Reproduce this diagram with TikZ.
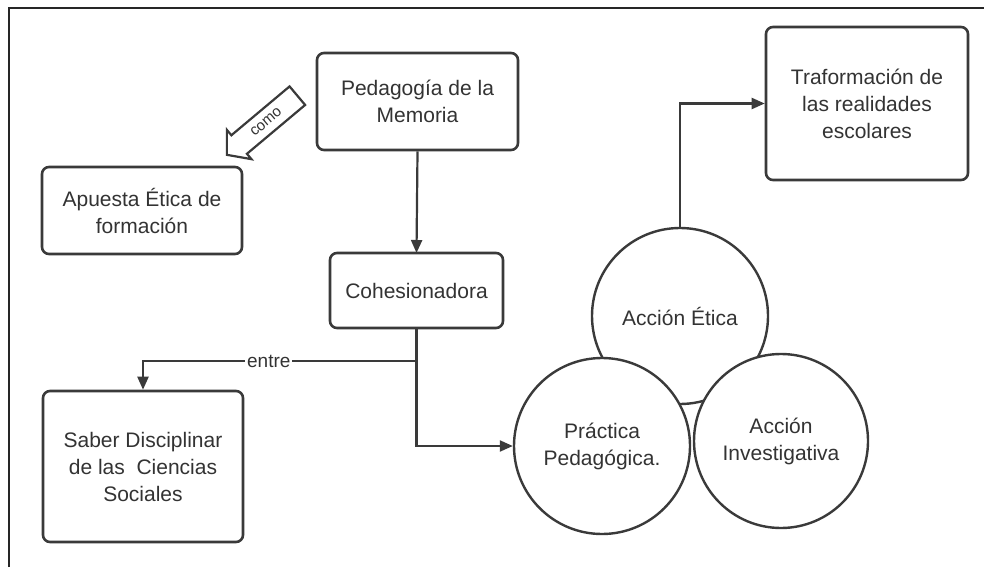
\documentclass[tikz,border=0pt]{standalone}
\usepackage{fontspec}
\setmainfont{Liberation Sans}
\usetikzlibrary{arrows.meta,shapes.arrows}
\definecolor{ink}{HTML}{3A3A3A}
\definecolor{txt}{HTML}{333333}
\tikzset{
  box/.style={draw=ink, line width=2.6pt, rounded corners=7pt, fill=white,
    align=center, text=txt, font=\fontsize{21}{27}\selectfont},
  ring/.style={circle, draw=ink, line width=2.4pt, fill=white, align=center,
    text=txt, font=\fontsize{21}{27}\selectfont, inner sep=0pt},
  link/.style={draw=ink, line width=2.2pt,
    -{Triangle[length=13pt,width=11pt]}},
  tag/.style={fill=white, text=txt, font=\fontsize{19}{22}\selectfont, inner sep=2pt}
}
\begin{document}
\begin{tikzpicture}[x=1pt,y=-1pt]
  \useasboundingbox (0,0) rectangle (984,567);
  % page frame (top and left rules)
  \draw[line width=1.6pt, draw=black!85] (9,567) -- (9,8) -- (984,8);

  % boxes
  \node[box, minimum width=201pt, minimum height=97pt] (ped) at (417.5,101.5)
    {Pedagogía de la\\Memoria};
  \node[box, minimum width=200pt, minimum height=87pt] (apu) at (142,210.5)
    {Apuesta Ética de\\formación};
  \node[box, minimum width=173pt, minimum height=75pt] (coh) at (416.5,290.5)
    {Cohesionadora};
  \node[box, minimum width=200pt, minimum height=151pt] (sab) at (143,466.5)
    {Saber Disciplinar\\de las\ \ Ciencias\\Sociales};
  \node[box, minimum width=202pt, minimum height=153pt] (tra) at (867,103.5)
    {Traformación de\\las realidades\\escolares};

  % three overlapping circles
  \node[ring, minimum size=176pt] (eti) at (680,316) {\raisebox{0pt}{Acción Ética}};
  \node[ring, minimum size=176pt] (pra) at (602,446) {Práctica\\Pedagógica.};
  \node[ring, minimum size=174pt] (inv) at (781,441) {Acción\\Investigativa};

  % hollow "como" arrow
  \node[single arrow, draw=ink, line width=2.2pt, fill=white, text=txt,
    font=\fontsize{15}{17}\selectfont, text height=10pt, text depth=2pt,
    inner xsep=6pt, inner ysep=5pt, minimum height=92pt,
    single arrow head extend=7pt, single arrow tip angle=100,
    shape border rotate=180, rotate=40] (como) at (266,122) {como};

  % connectors
  \draw[link] (ped.south) -- (coh.south |- 0,253);
  \path (coh.south) ++(0,32) coordinate (br);
  \draw[draw=ink, line width=2.2pt] (coh.south) -- (br);
  \draw[link] (br) -- (pra.west -| br) -- (pra.west);
  \draw[link] (br) -| node[tag, pos=0.27] {entre} (sab.north);
  \draw[link] (eti.north) |- (tra.west);
\end{tikzpicture}
\end{document}
